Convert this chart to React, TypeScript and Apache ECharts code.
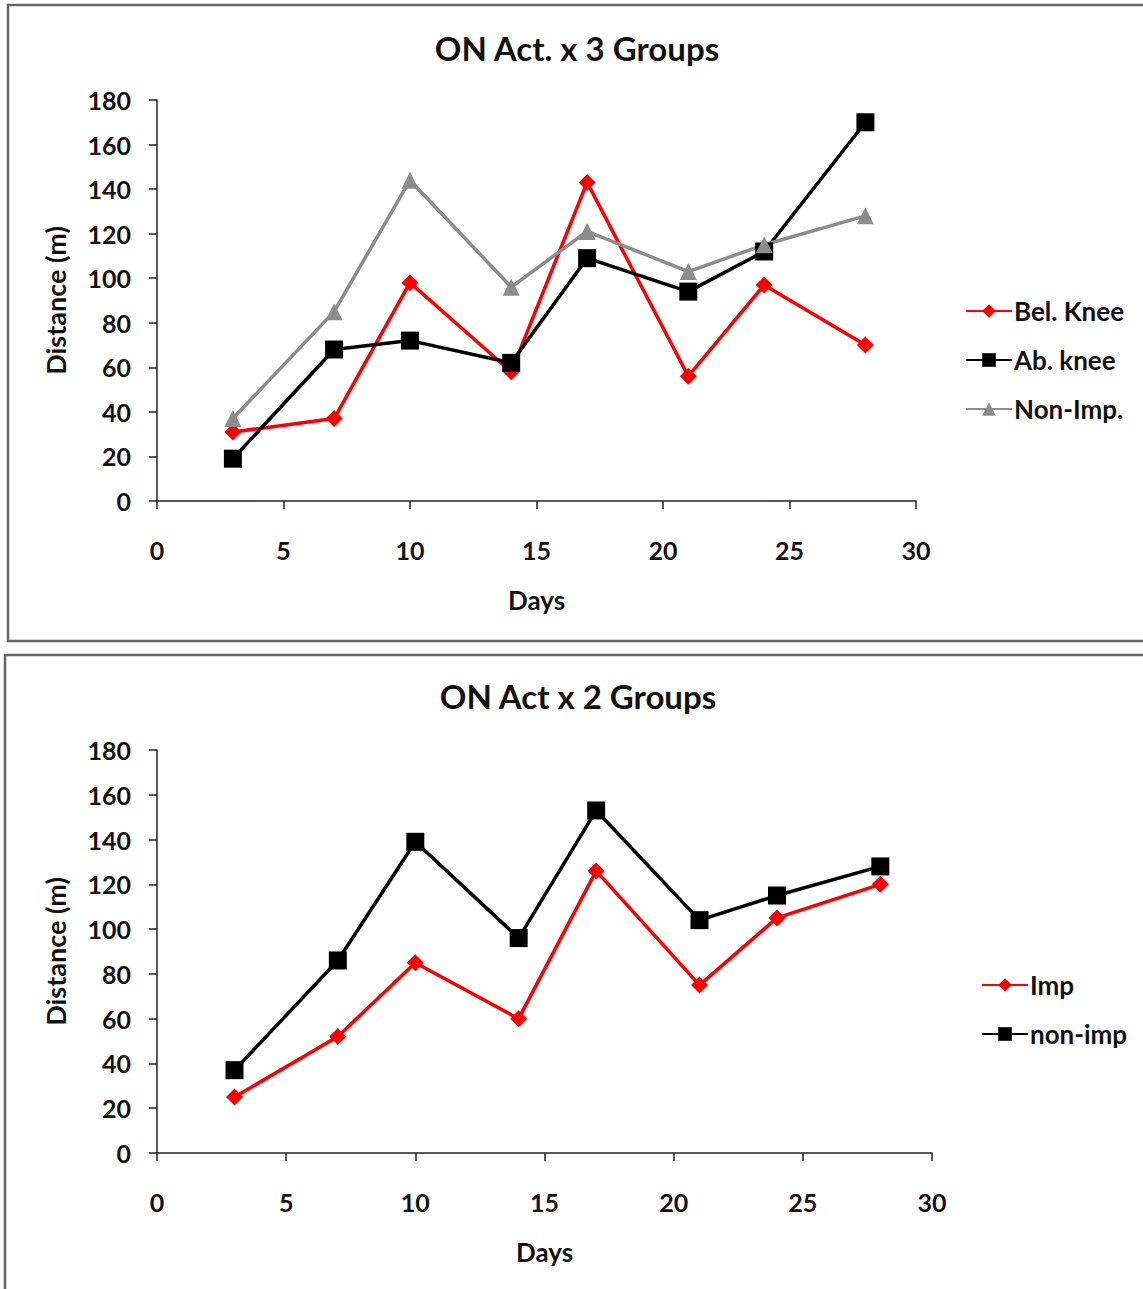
import React, { useEffect, useRef } from "react";
import * as echarts from "echarts";

const days = [3, 7, 10, 14, 17, 21, 24, 28];
const belKnee = [31, 37, 98, 58, 143, 56, 97, 70];
const abKnee = [19, 68, 72, 62, 109, 94, 112, 170];
const nonImp3 = [37, 85, 144, 96, 121, 103, 115, 128];
const imp = [25, 52, 85, 60, 126, 75, 105, 120];
const nonImp2 = [37, 86, 139, 96, 153, 104, 115, 128];

const title1 = "ON Act. x 3 Groups";
const title2 = "ON Act x 2 Groups";
const FONT = "Lato";

const pair = (ys: number[]) => days.map((d, i) => [d, ys[i]]);

function xAxis(gridIndex: number) {
  return {
    type: "value",
    gridIndex,
    min: 0,
    max: 30,
    interval: 5,
    name: "Days",
    nameLocation: "middle",
    nameGap: 86,
    nameTextStyle: { fontFamily: FONT, fontWeight: "bold", fontSize: 26, color: "#111" },
    axisLine: { lineStyle: { color: "#222", width: 1.5 } },
    axisTick: { show: true, length: 8, lineStyle: { color: "#222", width: 1.5 } },
    axisLabel: { margin: 36, fontFamily: FONT, fontWeight: "bold", fontSize: 25, color: "#111" },
    splitLine: { show: false },
  };
}

function yAxis(gridIndex: number) {
  return {
    type: "value",
    gridIndex,
    min: 0,
    max: 180,
    interval: 20,
    name: "Distance (m)",
    nameLocation: "middle",
    nameGap: 88,
    nameTextStyle: { fontFamily: FONT, fontWeight: "bold", fontSize: 27, color: "#111" },
    axisLine: { show: true, lineStyle: { color: "#222", width: 1.5 } },
    axisTick: { show: true, length: 8, lineStyle: { color: "#222", width: 1.5 } },
    axisLabel: { margin: 26, fontFamily: FONT, fontWeight: "bold", fontSize: 25, color: "#111" },
    splitLine: { show: false },
  };
}

function line(name: string, data: number[], idx: number, color: string, symbol: string, size: number) {
  return {
    type: "line",
    name,
    xAxisIndex: idx,
    yAxisIndex: idx,
    data: pair(data),
    symbol,
    symbolSize: size,
    showSymbol: true,
    lineStyle: { color, width: 3.5 },
    itemStyle: { color },
  };
}

export default function App() {
  const ref = useRef<HTMLDivElement>(null);
  useEffect(() => {
    if (!ref.current) return;
    const chart = echarts.init(ref.current, null, { renderer: "svg" });
    const legendText = { fontFamily: FONT, fontWeight: "bold", fontSize: 26, color: "#111", padding: [0, 0, 0, -3] };
    chart.setOption({
      animation: false,
      backgroundColor: "#fff",
      title: [
        { text: title1, left: 572, top: 26, textAlign: "center", textStyle: { fontFamily: FONT, fontWeight: "bold", fontSize: 33, color: "#111" } },
        { text: title2, left: 573, top: 674, textAlign: "center", textStyle: { fontFamily: FONT, fontWeight: "bold", fontSize: 33, color: "#111" } },
      ],
      graphic: [
        { type: "rect", shape: { x: 8, y: 5, width: 1150, height: 636 }, style: { fill: "none", stroke: "#666", lineWidth: 2.5 }, z: -1 },
        { type: "rect", shape: { x: 5, y: 655, width: 1150, height: 650 }, style: { fill: "none", stroke: "#666", lineWidth: 2.5 }, z: -1 },
      ],
      grid: [
        { left: 157, top: 100, width: 759, height: 401 },
        { left: 157, top: 750, width: 775, height: 403 },
      ],
      xAxis: [xAxis(0), xAxis(1)],
      yAxis: [yAxis(0), yAxis(1)],
      legend: [
        {
          orient: "vertical",
          left: 960,
          top: 293,
          itemGap: 23,
          itemWidth: 46,
          itemHeight: 17,
          textStyle: legendText,
          data: ["Bel. Knee", "Ab. knee", "Non-Imp."],
        },
        {
          orient: "vertical",
          left: 976,
          top: 967,
          itemGap: 23,
          itemWidth: 46,
          itemHeight: 17,
          textStyle: legendText,
          data: ["Imp", "non-imp"],
        },
      ],
      series: [
        line("Bel. Knee", belKnee, 0, "#ff0000", "diamond", 17),
        line("Ab. knee", abKnee, 0, "#000000", "rect", 18),
        line("Non-Imp.", nonImp3, 0, "#8c8c8c", "triangle", 17),
        line("Imp", imp, 1, "#ff0000", "diamond", 17),
        line("non-imp", nonImp2, 1, "#000000", "rect", 18),
      ],
    });
    return () => chart.dispose();
  }, []);
  return (
    <div
      ref={ref}
      style={{ position: "absolute", left: 0, top: 0, width: 1143, height: 1289 }}
    />
  );
}
